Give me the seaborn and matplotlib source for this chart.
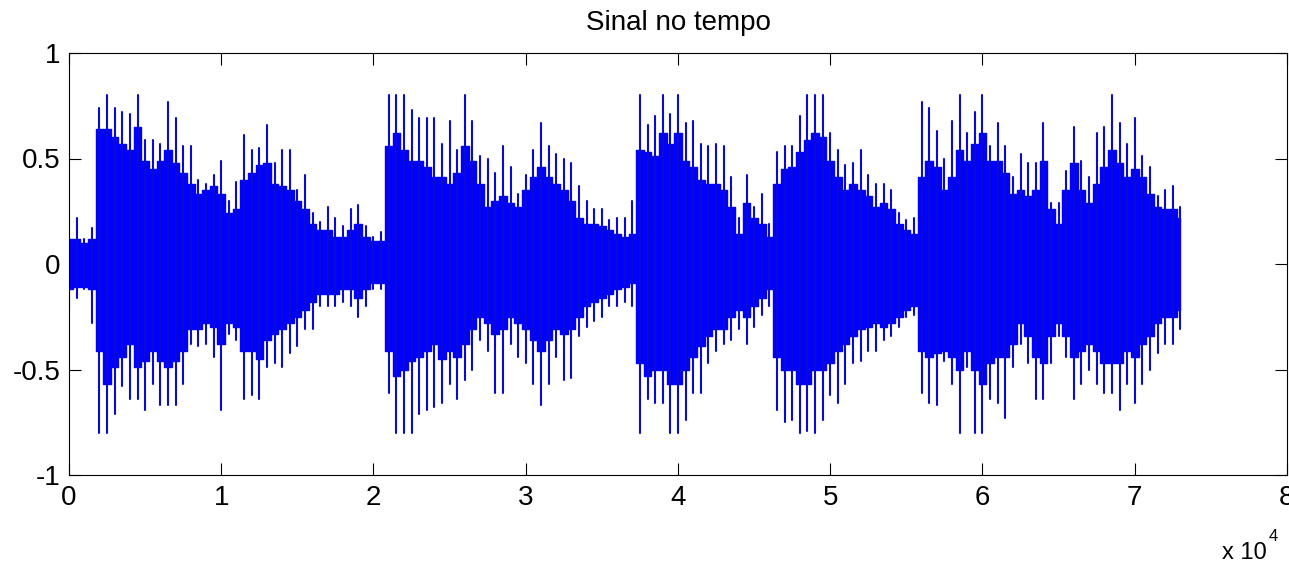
import numpy as np
import pandas as pd
import matplotlib
matplotlib.use("Agg")
import matplotlib.pyplot as plt
import seaborn as sns

# ---------------- data ----------------
sample_step = 500          # samples between readings
n_samples_read = 147       # readings at 0, 500, ..., 73000

# outer tips of the waveform (spikes)
up_tip = [0.15, 0.22, 0.12, 0.17, 0.74, 0.80, 0.74, 0.72, 0.71, 0.80,
          0.59, 0.59, 0.57, 0.77, 0.69, 0.56, 0.56, 0.40, 0.38, 0.42,
          0.49, 0.30, 0.39, 0.61, 0.54, 0.55, 0.66, 0.48, 0.54, 0.54,
          0.35, 0.42, 0.24, 0.20, 0.27, 0.22, 0.18, 0.26, 0.28, 0.18,
          0.13, 0.15, 0.80, 0.80, 0.80, 0.73, 0.69, 0.69, 0.69, 0.57,
          0.68, 0.54, 0.80, 0.68, 0.51, 0.50, 0.43, 0.56, 0.46, 0.33,
          0.42, 0.54, 0.67, 0.56, 0.52, 0.50, 0.48, 0.37, 0.30, 0.26,
          0.26, 0.21, 0.22, 0.22, 0.30, 0.80, 0.66, 0.70, 0.80, 0.71,
          0.80, 0.67, 0.68, 0.57, 0.56, 0.57, 0.56, 0.41, 0.22, 0.42,
          0.27, 0.33, 0.19, 0.53, 0.56, 0.56, 0.70, 0.80, 0.80, 0.80,
          0.62, 0.54, 0.47, 0.48, 0.54, 0.42, 0.38, 0.38, 0.35, 0.24,
          0.21, 0.22, 0.77, 0.74, 0.63, 0.50, 0.68, 0.80, 0.62, 0.72,
          0.80, 0.56, 0.67, 0.56, 0.41, 0.52, 0.48, 0.48, 0.67, 0.29,
          0.29, 0.44, 0.65, 0.49, 0.41, 0.62, 0.65, 0.80, 0.67, 0.57,
          0.69, 0.51, 0.46, 0.32, 0.35, 0.37, 0.27]

lo_tip = [-0.22, -0.16, -0.12, -0.28, -0.80, -0.80, -0.71, -0.58, -0.64, -0.64,
          -0.69, -0.57, -0.67, -0.67, -0.67, -0.57, -0.38, -0.39, -0.38, -0.44,
          -0.69, -0.33, -0.36, -0.64, -0.62, -0.64, -0.49, -0.47, -0.49, -0.42,
          -0.39, -0.31, -0.31, -0.20, -0.20, -0.20, -0.18, -0.20, -0.25, -0.20,
          -0.12, -0.12, -0.61, -0.80, -0.80, -0.80, -0.71, -0.69, -0.68, -0.66,
          -0.57, -0.64, -0.55, -0.50, -0.36, -0.41, -0.61, -0.61, -0.38, -0.44,
          -0.47, -0.57, -0.67, -0.57, -0.44, -0.55, -0.54, -0.34, -0.30, -0.27,
          -0.25, -0.20, -0.20, -0.18, -0.20, -0.80, -0.64, -0.66, -0.66, -0.80,
          -0.80, -0.74, -0.61, -0.61, -0.47, -0.41, -0.38, -0.36, -0.31, -0.38,
          -0.30, -0.24, -0.20, -0.69, -0.75, -0.74, -0.80, -0.79, -0.80, -0.74,
          -0.62, -0.66, -0.57, -0.47, -0.46, -0.41, -0.41, -0.36, -0.34, -0.30,
          -0.25, -0.24, -0.61, -0.66, -0.67, -0.46, -0.57, -0.80, -0.49, -0.80,
          -0.80, -0.64, -0.66, -0.73, -0.49, -0.38, -0.47, -0.64, -0.64, -0.47,
          -0.34, -0.44, -0.64, -0.57, -0.50, -0.57, -0.61, -0.61, -0.69, -0.57,
          -0.66, -0.57, -0.50, -0.42, -0.38, -0.38, -0.31]

# solid body of the waveform
up_body = [0.12, 0.12, 0.10, 0.12, 0.64, 0.64, 0.60, 0.57, 0.54, 0.65,
           0.49, 0.45, 0.49, 0.54, 0.48, 0.43, 0.38, 0.33, 0.35, 0.37,
           0.33, 0.24, 0.26, 0.40, 0.43, 0.47, 0.48, 0.38, 0.37, 0.35,
           0.30, 0.26, 0.19, 0.16, 0.16, 0.13, 0.13, 0.16, 0.19, 0.13,
           0.11, 0.11, 0.56, 0.62, 0.54, 0.49, 0.49, 0.46, 0.41, 0.41,
           0.38, 0.43, 0.56, 0.49, 0.38, 0.27, 0.30, 0.32, 0.29, 0.27,
           0.35, 0.41, 0.46, 0.41, 0.38, 0.35, 0.30, 0.22, 0.19, 0.19,
           0.18, 0.16, 0.14, 0.13, 0.14, 0.54, 0.53, 0.51, 0.62, 0.57,
           0.62, 0.49, 0.46, 0.40, 0.38, 0.38, 0.35, 0.27, 0.14, 0.29,
           0.22, 0.19, 0.13, 0.38, 0.45, 0.46, 0.53, 0.59, 0.62, 0.60,
           0.49, 0.41, 0.35, 0.38, 0.35, 0.32, 0.27, 0.29, 0.26, 0.19,
           0.16, 0.14, 0.41, 0.49, 0.46, 0.35, 0.41, 0.54, 0.49, 0.57,
           0.62, 0.49, 0.49, 0.43, 0.33, 0.35, 0.32, 0.35, 0.49, 0.26,
           0.19, 0.35, 0.48, 0.35, 0.29, 0.38, 0.46, 0.54, 0.48, 0.41,
           0.45, 0.41, 0.33, 0.27, 0.26, 0.26, 0.22]

lo_body = [-0.12, -0.11, -0.11, -0.12, -0.41, -0.57, -0.49, -0.44, -0.38, -0.49,
           -0.46, -0.41, -0.46, -0.49, -0.46, -0.41, -0.31, -0.31, -0.28, -0.30,
           -0.38, -0.28, -0.30, -0.41, -0.41, -0.45, -0.36, -0.33, -0.31, -0.28,
           -0.25, -0.22, -0.18, -0.14, -0.14, -0.14, -0.12, -0.12, -0.16, -0.12,
           -0.09, -0.09, -0.41, -0.53, -0.50, -0.46, -0.44, -0.41, -0.38, -0.45,
           -0.41, -0.44, -0.38, -0.31, -0.25, -0.28, -0.33, -0.31, -0.25, -0.28,
           -0.31, -0.36, -0.41, -0.36, -0.31, -0.33, -0.31, -0.25, -0.20, -0.18,
           -0.16, -0.14, -0.12, -0.11, -0.09, -0.47, -0.53, -0.50, -0.50, -0.57,
           -0.57, -0.50, -0.44, -0.39, -0.34, -0.31, -0.31, -0.25, -0.22, -0.25,
           -0.20, -0.16, -0.12, -0.44, -0.50, -0.50, -0.57, -0.57, -0.50, -0.50,
           -0.47, -0.41, -0.38, -0.34, -0.31, -0.30, -0.28, -0.30, -0.28, -0.25,
           -0.22, -0.20, -0.41, -0.44, -0.42, -0.41, -0.44, -0.50, -0.41, -0.50,
           -0.57, -0.47, -0.44, -0.44, -0.38, -0.28, -0.34, -0.44, -0.47, -0.34,
           -0.28, -0.34, -0.44, -0.41, -0.38, -0.41, -0.47, -0.47, -0.47, -0.41,
           -0.44, -0.38, -0.34, -0.28, -0.25, -0.25, -0.22]

xtick_values = [0, 1, 2, 3, 4, 5, 6, 7, 8]          # in units of 10^4 samples
xtick_labels = ["0", "1", "2", "3", "4", "5", "6", "7", "8"]
ytick_values = [-1, -0.5, 0, 0.5, 1]
ytick_labels = ["-1", "-0.5", "0", "0.5", "1"]
title_text = "Sinal no tempo"
x_scale = 10000

# ---------------- figure ----------------
sns.set_theme(style="white")
plt.rcParams["font.family"] = ["Liberation Sans", "DejaVu Sans"]

samples = np.arange(n_samples_read) * sample_step

spikes = pd.DataFrame({
    "amostra": np.repeat(samples, 2),
    "amplitude": np.column_stack([lo_tip, up_tip]).ravel(),
    "pico": np.repeat(np.arange(n_samples_read), 2),
})

W, H = 1289, 563
fig = plt.figure(figsize=(W / 100, H / 100), dpi=100)
fig.patch.set_facecolor("white")
ax = fig.add_axes([69 / W, 1 - 475 / H, (1287 - 69) / W, (475 - 53) / H])
ax.set_facecolor("white")

ax.fill_between(samples, lo_body, up_body, step="mid", color="#0000ff",
                lw=1.0, edgecolor="#0000ff")
sns.lineplot(data=spikes, x="amostra", y="amplitude", units="pico",
             estimator=None, sort=False, color="#0a0ad0", lw=1.5,
             legend=False, ax=ax)

ax.set_xlim(xtick_values[0] * x_scale, xtick_values[-1] * x_scale)
ax.set_ylim(ytick_values[0], ytick_values[-1])
ax.set_xticks([v * x_scale for v in xtick_values])
ax.set_xticklabels(xtick_labels)
ax.set_yticks(ytick_values)
ax.set_yticklabels(ytick_labels)
ax.set_xlabel("")
ax.set_ylabel("")

ax.tick_params(axis="both", direction="in", length=8.6, width=0.8,
               color="black", labelsize=20, labelcolor="black",
               top=True, right=True, bottom=True, left=True)
ax.tick_params(axis="x", pad=7)
ax.tick_params(axis="y", pad=6)
for sp in ax.spines.values():
    sp.set_visible(True)
    sp.set_color("black")
    sp.set_linewidth(0.8)

ax.set_title(title_text, fontsize=20, color="black", pad=16.5)

fig.text(1267 / W, 1 - 559 / H, "x 10", ha="right", va="baseline",
         fontsize=17, color="black")
fig.text(1269 / W, 1 - 541 / H, "4", ha="left", va="baseline",
         fontsize=12, color="black")

fig.savefig("out.png", dpi=100, facecolor="white")
